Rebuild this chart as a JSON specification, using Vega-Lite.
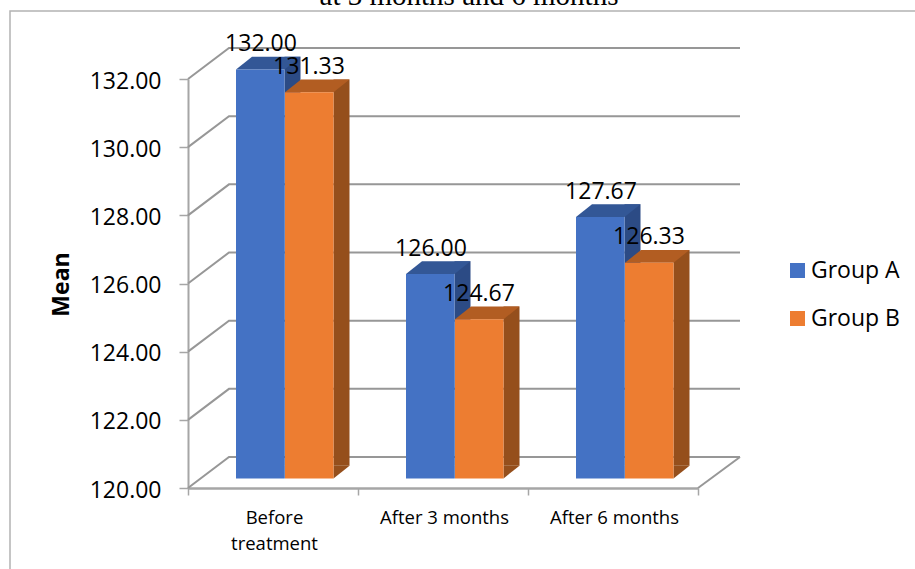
{
  "$schema": "https://vega.github.io/schema/vega-lite/v6.json",
  "autosize": "none",
  "padding": {"left": 188, "top": 79, "right": 217, "bottom": 81},
  "width": 510,
  "height": 409,
  "background": "white",
  "config": {
    "font": "Open Sans",
    "view": {"stroke": null}
  },
  "datasets": {
    "means": [
      {"period": "Before treatment", "group": "Group A", "mean": 132.00},
      {"period": "Before treatment", "group": "Group B", "mean": 131.33},
      {"period": "After 3 months", "group": "Group A", "mean": 126.00},
      {"period": "After 3 months", "group": "Group B", "mean": 124.67},
      {"period": "After 6 months", "group": "Group A", "mean": 127.67},
      {"period": "After 6 months", "group": "Group B", "mean": 126.33}
    ],
    "ticks": [
      {"mean": 120}, {"mean": 122}, {"mean": 124}, {"mean": 126},
      {"mean": 128}, {"mean": 130}, {"mean": 132}
    ],
    "once": [{"mean": 120}],
    "heading": [{"mean": 132, "caption": "at 3 months and 6 months"}]
  },
  "encoding": {
    "y": {
      "field": "mean",
      "type": "quantitative",
      "scale": {"domain": [120, 132], "nice": false, "zero": false},
      "axis": {
        "title": "Mean",
        "titleFont": "Open Sans",
        "titleFontSize": 23,
        "titleFontWeight": "bold",
        "titleColor": "#000000",
        "titleX": -115,
        "titleY": 205,
        "values": [120, 122, 124, 126, 128, 130, 132],
        "format": ".2f",
        "grid": false,
        "labelFont": "Open Sans",
        "labelFontSize": 23,
        "labelColor": "#000000",
        "labelPadding": 18,
        "labelOffset": 2,
        "tickSize": 9,
        "tickWidth": 1.5,
        "tickColor": "#a6a6a6",
        "domainColor": "#a6a6a6",
        "domainWidth": 2
      }
    }
  },
  "layer": [
    {
      "description": "Heading line above the chart frame",
      "data": {"name": "heading"},
      "mark": {
        "type": "text",
        "font": "Liberation Serif",
        "fontSize": 29,
        "color": "#000000",
        "align": "center",
        "baseline": "alphabetic",
        "xOffset": 26,
        "yOffset": -74
      },
      "encoding": {"text": {"field": "caption"}}
    },
    {
      "description": "Outer chart frame, left and top edges",
      "data": {"name": "once"},
      "mark": {
        "type": "point",
        "filled": false,
        "opacity": 1,
        "size": 4,
        "stroke": "#b3b3b3",
        "strokeWidth": 1.5,
        "shape": "M-433,81 V-477 H472"
      }
    },
    {
      "description": "Gridlines running across the side wall and the back wall",
      "data": {"name": "ticks"},
      "mark": {
        "type": "point",
        "filled": false,
        "opacity": 1,
        "size": 4,
        "stroke": "#979797",
        "strokeWidth": 2,
        "shape": "M-255,0 L-214,-31 L297,-31"
      }
    },
    {
      "description": "Right edge of the floor",
      "data": {"name": "once"},
      "mark": {
        "type": "point",
        "filled": false,
        "opacity": 1,
        "size": 4,
        "stroke": "#979797",
        "strokeWidth": 2,
        "shape": "M255,0 L297,-31"
      }
    },
    {
      "description": "Group A columns",
      "data": {"name": "means"},
      "transform": [{"filter": "datum.group === 'Group A'"}],
      "encoding": {
        "x": {
          "field": "period",
          "type": "nominal",
          "sort": ["Before treatment", "After 3 months", "After 6 months"],
          "scale": {"paddingInner": 0, "paddingOuter": 0},
          "axis": {
            "title": null,
            "labelAngle": 0,
            "labelFont": "Open Sans",
            "labelFontSize": 18.5,
            "labelColor": "#000000",
            "labelPadding": 13,
            "labelLineHeight": 26,
            "labelOffset": 1,
            "labelExpr": "datum.label === 'Before treatment' ? ['Before', 'treatment'] : datum.label",
            "tickBand": "extent",
            "tickSize": 7,
            "tickWidth": 1.5,
            "tickColor": "#a6a6a6",
            "domainColor": "#a6a6a6",
            "domainWidth": 2.5
          }
        }
      },
      "layer": [
        {
          "mark": {"type": "bar", "width": 16, "xOffset": 19.5, "yOffset": -22.3, "y2Offset": -22.3, "color": "#2c4b85"},
          "encoding": {"y2": {"datum": 120}}
        },
        {
          "mark": {"type": "point", "filled": true, "opacity": 1, "size": 4, "strokeWidth": 0, "color": "#2c4b85", "xOffset": 11.5, "yOffset": -9.6, "shape": "M0,0 L16,-12.7 L0,-12.7 Z"},
          "encoding": {"y": {"datum": 120}}
        },
        {
          "mark": {"type": "point", "filled": true, "opacity": 1, "size": 4, "strokeWidth": 0, "color": "#335796", "xOffset": -12.75, "yOffset": -9.6, "shape": "M-24.25,0 L24.25,0 L40.25,-12.7 L-8.25,-12.7 Z"}
        },
        {
          "mark": {"type": "bar", "width": 48.5, "xOffset": -12.75, "yOffset": -9.6, "y2Offset": -9.6},
          "encoding": {
            "y2": {"datum": 120},
            "color": {
              "field": "group",
              "type": "nominal",
              "scale": {"domain": ["Group A", "Group B"], "range": ["#4472c4", "#ed7d31"]},
              "legend": {
                "title": null,
                "orient": "none",
                "legendX": 598,
                "legendY": 180,
                "symbolType": "square",
                "symbolSize": 225,
                "symbolStrokeWidth": 0,
                "labelFont": "Open Sans",
                "labelFontSize": 23,
                "labelColor": "#000000",
                "labelOffset": 2,
                "rowPadding": 24
              }
            }
          }
        },
        {
          "mark": {"type": "text", "font": "Open Sans", "fontSize": 23, "color": "#000000", "baseline": "middle", "xOffset": -12, "yOffset": -35},
          "encoding": {"text": {"field": "mean", "type": "quantitative", "format": ".2f"}}
        }
      ]
    },
    {
      "description": "Group B columns",
      "data": {"name": "means"},
      "transform": [{"filter": "datum.group === 'Group B'"}],
      "encoding": {
        "x": {
          "field": "period",
          "type": "nominal",
          "sort": ["Before treatment", "After 3 months", "After 6 months"]
        }
      },
      "layer": [
        {
          "mark": {"type": "bar", "width": 16, "xOffset": 68.5, "yOffset": -22.3, "y2Offset": -22.3, "color": "#954f1c"},
          "encoding": {"y2": {"datum": 120}}
        },
        {
          "mark": {"type": "point", "filled": true, "opacity": 1, "size": 4, "strokeWidth": 0, "color": "#954f1c", "xOffset": 60.5, "yOffset": -9.6, "shape": "M0,0 L16,-12.7 L0,-12.7 Z"},
          "encoding": {"y": {"datum": 120}}
        },
        {
          "mark": {"type": "point", "filled": true, "opacity": 1, "size": 4, "strokeWidth": 0, "color": "#b25d22", "xOffset": 36.25, "yOffset": -9.6, "shape": "M-24.25,0 L24.25,0 L40.25,-12.7 L-8.25,-12.7 Z"}
        },
        {
          "mark": {"type": "bar", "width": 48.5, "xOffset": 36.25, "yOffset": -9.6, "y2Offset": -9.6},
          "encoding": {
            "y2": {"datum": 120},
            "color": {
              "field": "group",
              "type": "nominal",
              "scale": {"domain": ["Group A", "Group B"], "range": ["#4472c4", "#ed7d31"]}
            }
          }
        },
        {
          "mark": {"type": "text", "font": "Open Sans", "fontSize": 23, "color": "#000000", "baseline": "middle", "xOffset": 36, "yOffset": -35},
          "encoding": {"text": {"field": "mean", "type": "quantitative", "format": ".2f"}}
        }
      ]
    }
  ]
}
